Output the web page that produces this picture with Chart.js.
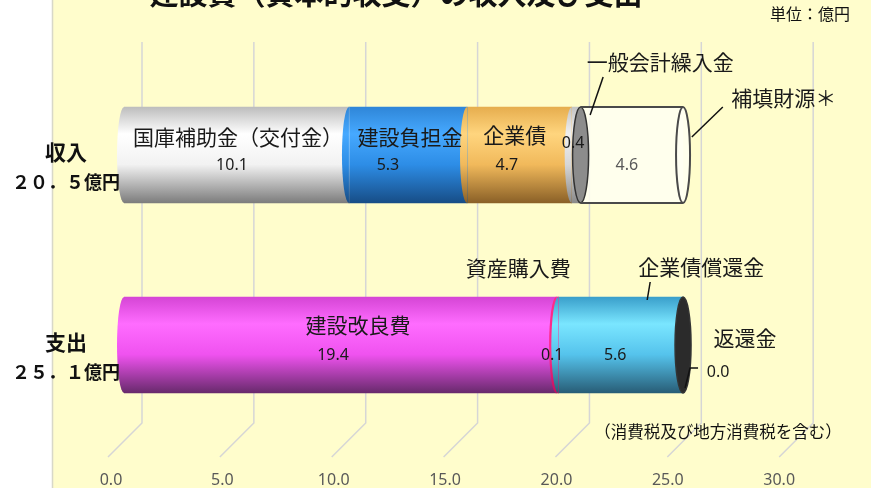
<!DOCTYPE html>
<html lang="ja">
<head>
<meta charset="utf-8">
<title>建設費（資本的収支）の収入及び支出</title>
<script src="https://cdn.jsdelivr.net/npm/chart.js@4.4.1/dist/chart.umd.min.js"></script>
<style>
  html, body { margin: 0; padding: 0; background: #fff; }
  #wrap { position: relative; width: 871px; height: 488px; }
</style>
</head>
<body>
<div id="wrap"><canvas id="capitalChart"></canvas></div>
<script>
// data
const categories = ["収入", "支出"];
const categoryTotals = ["２０．５億円", "２５．１億円"];
const incomeItems = ["国庫補助金（交付金）", "建設負担金", "企業債", "一般会計繰入金", "補填財源＊"];
const incomeValues = [10.1, 5.3, 4.7, 0.4, 4.6];
const spendItems = ["建設改良費", "資産購入費", "企業債償還金", "返還金"];
const spendValues = [19.4, 0.1, 5.6, 0.0];
const xTicks = [0, 5, 10, 15, 20, 25, 30];

const JP = '"Noto Sans CJK JP", "Noto Sans", sans-serif';
const NUM = '"Noto Sans", "Noto Sans CJK JP", sans-serif';
const BAR_H = 96;
const RX = 7;

// cylinder shading: top, highlight, middle, bottom
const incomeShades = [
  ["#bdbdbd", "#ffffff", "#f2f2f2", "#7c7c7c"],
  ["#2f86d8", "#46a9ff", "#2d8de6", "#174d86"],
  ["#e6ad4e", "#ffd57e", "#f1b95b", "#8a6027"],
  ["#c4c4c4", "#f0f0f0", "#d6d6d6", "#8a8a8a"],
  null
];
const spendShades = [
  ["#d545d5", "#ff6cff", "#ef52ef", "#682a6c"],
  ["#ff2a8a", "#ff2a8a", "#ff2a8a", "#c0105e"],
  ["#3a9fcb", "#7ae6ff", "#55c3ec", "#285d76"],
  ["#2b2b2b", "#2b2b2b", "#2b2b2b", "#2b2b2b"]
];

// label placement relative to the segment centre
const incomeLayout = [
  { name: [1.5, -18], value: [-4.5, 10] },
  { name: [2, -18], value: [-20, 10] },
  { name: [-4.5, -20], value: [-12.5, 10] },
  { name: [84, -93], value: [-3, -12], leader: [[27, -78], [14, -40]], cap: "#8c8c8c" },
  { name: [152, -57], value: [-5, 10], leader: [[91, -48], [60, -18]], valueColor: "#595959", outline: true }
];
const spendLayout = [
  { name: [18, -20], value: [-7, 10] },
  { name: [-39, -77], value: [-5, 10] },
  { name: [80.5, -78], value: [-5.5, 10], leader: [[29.5, -63], [26.5, -45]] },
  { name: [62, -7], value: [35, 27], leader: [[15, 23], [7, 23], [2, 43]], cap: "#2b2b2b" }
];

function cylinder(c, yc, s) {
  const g = c.createLinearGradient(0, yc - BAR_H / 2, 0, yc + BAR_H / 2);
  g.addColorStop(0, s[0]);
  g.addColorStop(0.28, s[1]);
  g.addColorStop(0.6, s[2]);
  g.addColorStop(1, s[3]);
  return g;
}

function makeSet(label, value, row, shades, layout) {
  const data = [null, null];
  data[row] = value;
  return {
    label: label,
    data: data,
    stack: "all",
    layout: layout,
    borderWidth: 0,
    backgroundColor: (ctx) => {
      if (!shades) return "rgba(255,255,242,0.85)";
      if (ctx.dataIndex === undefined) return shades[2];
      const yc = ctx.chart.scales.y ? ctx.chart.scales.y.getPixelForValue(ctx.dataIndex) : NaN;
      if (!isFinite(yc)) return shades[2];
      return cylinder(ctx.chart.ctx, yc, shades);
    }
  };
}

const datasets = [];
incomeItems.forEach((n, i) => datasets.push(makeSet(n, incomeValues[i], 0, incomeShades[i], incomeLayout[i])));
spendItems.forEach((n, i) => datasets.push(makeSet(n, spendValues[i], 1, spendShades[i], spendLayout[i])));

function eachBar(chart, fn) {
  chart.data.datasets.forEach((ds, d) => {
    chart.getDatasetMeta(d).data.forEach((el, i) => {
      if (ds.data[i] !== null) fn(ds, el, ds.data[i]);
    });
  });
}

const decorPlugin = {
  id: "decor",
  beforeDraw(chart) {
    const c = chart.ctx;
    c.save();
    c.fillStyle = "#fffdcc";
    c.fillRect(52, 0, chart.width - 52, chart.height);
    c.strokeStyle = "#d8d8c8";
    c.lineWidth = 1.5;
    c.beginPath();
    c.moveTo(52.5, 0);
    c.lineTo(52.5, chart.height);
    c.stroke();
    c.restore();
  },
  beforeDatasetsDraw(chart) {
    // back wall and floor lines
    const c = chart.ctx, x = chart.scales.x;
    c.save();
    c.strokeStyle = "#d6d6d6";
    c.lineWidth = 1.5;
    xTicks.forEach(v => {
      const bx = x.getPixelForValue(v) + 18 + 0.1 * v;
      c.beginPath();
      c.moveTo(bx, 42);
      c.lineTo(bx, 423);
      c.lineTo(bx - 34, 457);
      c.stroke();
    });
    c.restore();
  },
  afterDatasetsDraw(chart) {
    const c = chart.ctx;
    // rounded fronts of each segment
    eachBar(chart, (ds, el, v) => {
      if (v <= 0 || ds.layout.outline) return;
      c.save();
      c.beginPath();
      c.ellipse(el.base, el.y, RX, BAR_H / 2, 0, Math.PI / 2, Math.PI * 1.5);
      c.closePath();
      c.fillStyle = el.options.backgroundColor;
      c.fill();
      c.restore();
    });
    // end caps and the open cylinder
    eachBar(chart, (ds, el) => {
      const L = ds.layout;
      c.save();
      if (L.cap) {
        c.beginPath();
        c.ellipse(el.x, el.y, RX + 1, BAR_H / 2, 0, 0, Math.PI * 2);
        c.fillStyle = L.cap;
        c.fill();
        c.strokeStyle = "#333";
        c.lineWidth = 1.5;
        c.stroke();
      }
      if (L.outline) {
        c.strokeStyle = "#4a4a4a";
        c.lineWidth = 2;
        c.beginPath();
        c.moveTo(el.base, el.y - BAR_H / 2);
        c.lineTo(el.x, el.y - BAR_H / 2);
        c.moveTo(el.base, el.y + BAR_H / 2);
        c.lineTo(el.x, el.y + BAR_H / 2);
        c.stroke();
        c.beginPath();
        c.ellipse(el.x, el.y, RX, BAR_H / 2, 0, 0, Math.PI * 2);
        c.fillStyle = "rgba(255,255,242,0.85)";
        c.fill();
        c.stroke();
      }
      c.restore();
    });
  },
  afterDraw(chart) {
    const c = chart.ctx, y = chart.scales.y;
    c.save();
    c.textAlign = "center";
    c.textBaseline = "alphabetic";
    c.fillStyle = "#111";
    c.font = "bold 29px " + JP;
    c.fillText("建設費（資本的収支）の収入及び支出", 396, 5);

    c.textBaseline = "middle";
    c.font = "16px " + JP;
    c.fillText("単位：億円", 810, 14);
    c.font = "16.5px " + JP;
    c.fillText("（消費税及び地方消費税を含む）", 718, 432);

    categories.forEach((cat, i) => {
      const yc = y.getPixelForValue(i);
      c.font = "bold 21px " + JP;
      c.fillText(cat, 66, yc - 3);
      c.font = "bold 18px " + JP;
      c.fillText(categoryTotals[i], 66, yc + 27);
    });

    eachBar(chart, (ds, el, v) => {
      const L = ds.layout;
      const cx = (el.base + el.x) / 2, cy = el.y;
      if (L.leader) {
        c.strokeStyle = "#111";
        c.lineWidth = 1.5;
        c.beginPath();
        L.leader.forEach((p, k) => k ? c.lineTo(cx + p[0], cy + p[1]) : c.moveTo(cx + p[0], cy + p[1]));
        c.stroke();
      }
      c.fillStyle = "#1a1a1a";
      c.font = "21px " + JP;
      c.fillText(ds.label, cx + L.name[0], cy + L.name[1]);
      c.fillStyle = L.valueColor || "#1a1a1a";
      c.font = "16px " + NUM;
      c.fillText(v.toFixed(1), cx + L.value[0], cy + L.value[1]);
    });
    c.restore();
  }
};

new Chart(document.getElementById("capitalChart"), {
  type: "bar",
  data: { labels: categories, datasets: datasets },
  options: {
    indexAxis: "y",
    responsive: true,
    maintainAspectRatio: false,
    animation: false,
    barThickness: BAR_H,
    layout: { padding: { left: 124, right: 12, top: 60, bottom: 1 } },
    plugins: { legend: { display: false }, tooltip: { enabled: false } },
    scales: {
      x: {
        type: "linear",
        stacked: true,
        min: 0,
        max: 33,
        grid: { display: false, drawTicks: false },
        border: { display: false },
        afterBuildTicks: (s) => { s.ticks = xTicks.map(v => ({ value: v })); },
        afterFit: (s) => { s.height = 47; },
        ticks: {
          callback: (v) => Number(v).toFixed(1),
          labelOffset: -13,
          padding: 32,
          autoSkip: false,
          maxRotation: 0,
          color: "#595959",
          font: { family: NUM, size: 16, lineHeight: 1 }
        }
      },
      y: { type: "category", stacked: true, display: false }
    }
  },
  plugins: [decorPlugin]
});
</script>
</body>
</html>
